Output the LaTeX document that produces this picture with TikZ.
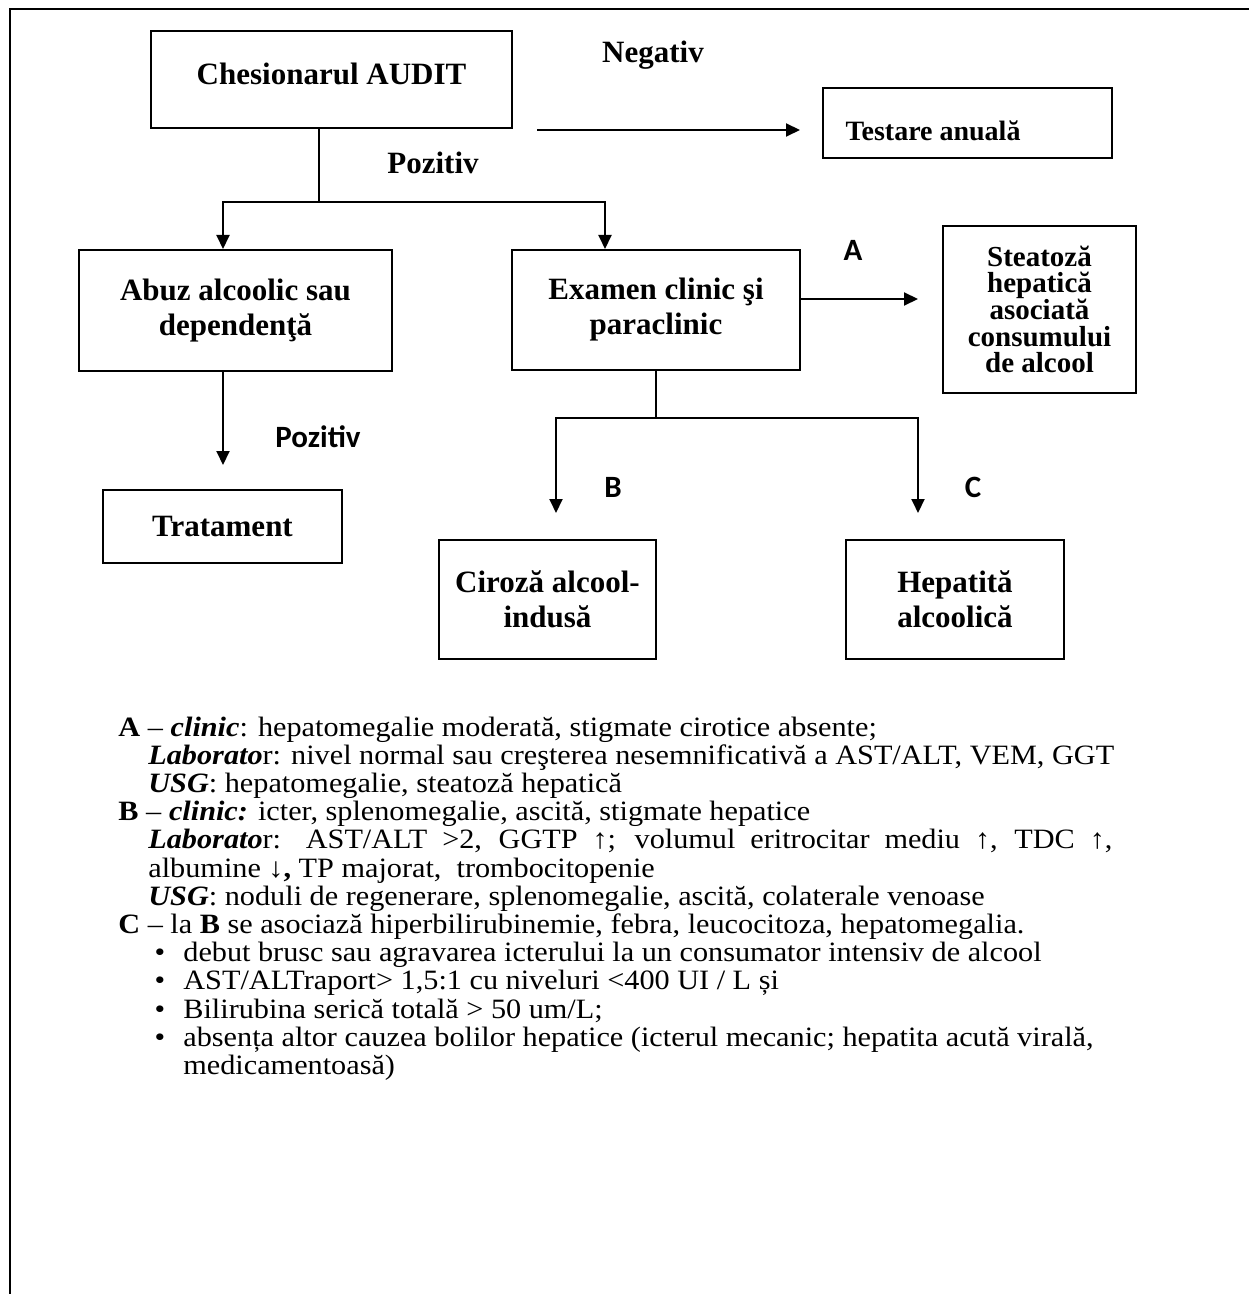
\documentclass[tikz,border=0pt]{standalone}
\usepackage{fontspec}
\setmainfont{Liberation Serif}
\newfontfamily\carl{Carlito}
\newfontfamily\legfont[FakeStretch=1.08]{Liberation Serif}
\usetikzlibrary{arrows.meta}
\begin{document}
\begin{tikzpicture}[x=0.5pt,y=-0.5pt,
  box/.style={draw, line width=1pt, inner sep=0pt, align=center,
    font=\fontsize{15.5}{17.5}\selectfont\bfseries},
  arr/.style={line width=1pt, -{Triangle[length=7pt,width=6.5pt]}},
  conn/.style={line width=1pt},
  lbl/.style={font=\fontsize{15.5}{17.5}\selectfont\bfseries, inner sep=0pt},
  slbl/.style={font=\carl\fontsize{15.5}{17}\selectfont\bfseries, inner sep=0pt},
  leg/.style={font=\legfont\fontsize{14}{14.1}\selectfont, inner sep=0pt, anchor=base west}]

\useasboundingbox (0,0) rectangle (1249,1294);

% outer frame (top and left only)
\coordinate (fbl) at (10,1294);
\coordinate (ftl) at (10,9);
\coordinate (ftr) at (1249,9);
\draw[line width=1pt] (fbl) -- (ftl) -- (ftr);

% boxes
\node[box, minimum width=180.5pt, minimum height=48.5pt, text depth=6pt] (audit) at (331.5,79.5) {Chesionarul AUDIT};
\node[box, minimum width=144.5pt, minimum height=35pt] (testare) at (967.5,123) {};
\node[lbl, font=\fontsize{14}{16}\selectfont\bfseries] (testaretxt) at (933,131) {Testare anuală};
\node[box, minimum width=156.5pt, minimum height=60.5pt] (abuz) at (235.5,310.5) {Abuz alcoolic sau\\dependenţă};
\node[box, minimum width=144pt, minimum height=60pt] (examen) at (656,310) {Examen clinic şi\\paraclinic};
\node[box, minimum width=96.5pt, minimum height=83.5pt, font=\fontsize{14.5}{13.35}\selectfont\bfseries] (steatoza) at (1039.5,309.5) {Steatoză\\hepatică\\asociată\\consumului\\de alcool};
\node[box, minimum width=119.5pt, minimum height=36.5pt] (tratament) at (222.5,526.5) {Tratament};
\node[box, minimum width=108.5pt, minimum height=59.5pt] (ciroza) at (547.5,599.5) {Ciroză alcool-\\indusă};
\node[box, minimum width=109pt, minimum height=59.5pt] (hepatita) at (955,599.5) {Hepatită\\alcoolică};

% labels
\node[lbl] (neg) at (653,55) {Negativ};
\node[lbl] (poz1) at (433,163) {Pozitiv};
\node[slbl] (labA) at (853,250) {A};
\node[slbl] (poz2) at (318,437) {Pozitiv};
\node[slbl] (labB) at (613,487) {B};
\node[slbl] (labC) at (973,487) {C};

% connectors
\coordinate (n0) at (537,130);
\coordinate (n1) at (800,130);
\draw[arr] (n0) -- (n1);

\coordinate (j0) at (319,202);
\coordinate (jl) at (223,202);
\coordinate (jr) at (605,202);
\draw[conn] (j0 |- audit.south) -- (j0);
\draw[arr] (j0) -| (jl |- abuz.north);
\draw[arr] (j0) -| (jr |- examen.north);

\coordinate (a1) at (918,299);
\draw[arr] (a1 -| examen.east) -- (a1);

\coordinate (k0) at (656,418);
\coordinate (tl) at (556,513);
\coordinate (tr) at (918,513);
\draw[conn] (examen.south) -- (k0);
\draw[arr] (k0) -| (tl);
\draw[arr] (k0) -| (tr);

\coordinate (t0) at (223,465);
\draw[arr] (t0 |- abuz.south) -- (t0);

% legend
\node[leg] (l1) at (118,736) {\textbf{A} – \textbf{\textit{clinic}}: hepatomegalie moderată, stigmate cirotice absente;};
\node[leg] (l2) at (148,764.2) {\textbf{\textit{Laborato}}r: nivel normal sau creşterea nesemnificativă a AST/ALT, VEM, GGT};
\node[leg] (l3) at (148,792.4) {\textbf{\textit{USG}}: hepatomegalie, steatoză hepatică};
\node[leg] (l4) at (118,820.6) {\textbf{B} – \textbf{\textit{clinic:}} icter, splenomegalie, ascită, stigmate hepatice};
\node[leg] (l5) at (148,848.8) {\makebox[482pt][s]{\textbf{\textit{Laborato}}r: AST/ALT >2, GGTP ↑; volumul eritrocitar mediu ↑, TDC ↑,}};
\node[leg] (l6) at (148,877) {albumine \textbf{↓,} TP majorat,\ \ trombocitopenie};
\node[leg] (l7) at (148,905.2) {\textbf{\textit{USG}}: noduli de regenerare, splenomegalie, ascită, colaterale venoase};
\node[leg] (l8) at (118,933.4) {\textbf{C} – la \textbf{B} se asociază hiperbilirubinemie, febra, leucocitoza, hepatomegalia.};
\node[leg, anchor=base] (d1) at (160,961.6) {•};
\node[leg] (l9) at (183,961.6) {debut brusc sau agravarea icterului la un consumator intensiv de alcool};
\node[leg, anchor=base] (d2) at (160,989.8) {•};
\node[leg] (l10) at (183,989.8) {AST/ALTraport> 1,5:1 cu niveluri <400 UI / L și};
\node[leg, anchor=base] (d3) at (160,1018) {•};
\node[leg] (l11) at (183,1018) {Bilirubina serică totală > 50 um/L;};
\node[leg, anchor=base] (d4) at (160,1046.2) {•};
\node[leg] (l12) at (183,1046.2) {absența altor cauzea bolilor hepatice (icterul mecanic; hepatita acută virală,};
\node[leg] (l13) at (183,1074.4) {medicamentoasă)};
\end{tikzpicture}
\end{document}
